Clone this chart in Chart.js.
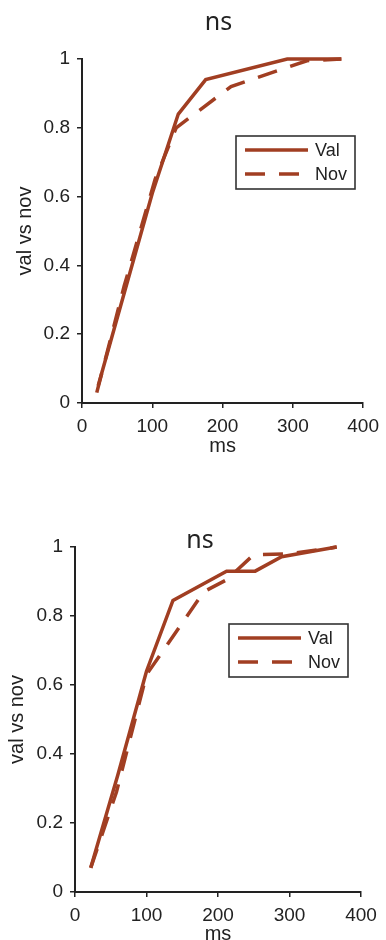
<!DOCTYPE html>
<html><head><meta charset="utf-8">
<script src="https://cdn.jsdelivr.net/npm/chart.js@4"></script>
<style>
html,body{margin:0;padding:0;background:#fff;overflow:hidden;width:386px;height:940px;position:relative;}
canvas{position:absolute;left:0;}
#c1{top:0}
#c2{top:470px}
</style></head><body>
<canvas id="c1" width="386" height="470"></canvas>
<canvas id="c2" width="386" height="480"></canvas>
<script>
// ---- data ----
const seriesLabels = ['Val', 'Nov'];
const chartTitle = 'ns';
const xAxisTitle = 'ms';
const yAxisTitle = 'val vs nov';
const xTickValues = [0, 100, 200, 300, 400];
const yTickValues = [0, 0.2, 0.4, 0.6, 0.8, 1];

const topValMs  = [23, 100, 137, 176, 292, 369];
const topVal    = [0.05, 0.61, 0.84, 0.94, 1.0, 1.0];
const topNovMs  = [21, 60, 104, 134, 212, 320, 369];
const topNov    = [0.03, 0.34, 0.65, 0.80, 0.92, 0.995, 1.0];

const botValMs  = [22, 60, 100, 137, 212, 252, 289, 366];
const botVal    = [0.07, 0.34, 0.64, 0.845, 0.93, 0.93, 0.972, 1.0];
const botNovMs  = [22, 58, 100, 180, 212, 250, 300, 366];
const botNov    = [0.07, 0.29, 0.63, 0.87, 0.905, 0.978, 0.98, 1.0];

// ---- styling ----
const LINE = '#A13E22';
const INK = '#222';
const TICKFONT = {family: "'Liberation Sans', Arial, sans-serif", size: 19};
const LABFONT = {family: "'Liberation Sans', Arial, sans-serif", size: 20};

const titlePlugin = {
  id: 'figTitle',
  afterDraw(chart, args, o) {
    const ctx = chart.ctx, a = chart.chartArea;
    ctx.save();
    ctx.font = o.font; ctx.fillStyle = o.color;
    ctx.textAlign = 'center'; ctx.textBaseline = 'alphabetic';
    ctx.fillText(o.text, (a.left + a.right) / 2 + o.dx, a.top + o.dy);
    ctx.restore();
  }
};

const boxLegendPlugin = {
  id: 'boxLegend',
  afterDraw(chart, args, o) {
    const ctx = chart.ctx, a = chart.chartArea;
    const x = a.left + o.x, y = a.top + o.y;
    ctx.save();
    ctx.fillStyle = '#fff'; ctx.fillRect(x, y, o.w, o.h);
    ctx.lineWidth = 1.6; ctx.strokeStyle = '#333'; ctx.setLineDash([]);
    ctx.strokeRect(x, y, o.w, o.h);
    chart.data.datasets.forEach((ds, i) => {
      const ly = y + o.rows[i];
      ctx.beginPath();
      ctx.setLineDash(ds.borderDash || []);
      ctx.lineWidth = ds.borderWidth; ctx.strokeStyle = ds.borderColor; ctx.lineCap = 'butt';
      ctx.moveTo(x + o.lx0, ly); ctx.lineTo(x + o.lx1, ly); ctx.stroke();
      ctx.setLineDash([]);
      ctx.fillStyle = INK; ctx.font = o.font;
      ctx.textAlign = 'left'; ctx.textBaseline = 'middle';
      ctx.fillText(ds.label, x + o.tx, ly + 1);
    });
    ctx.restore();
  }
};

function pts(xs, ys) { return xs.map((v, i) => ({x: v, y: ys[i]})); }

function makeChart(id, valMs, val, novMs, nov, L) {
  return new Chart(document.getElementById(id), {
    type: 'line',
    data: {
      datasets: [
        {label: seriesLabels[0], data: pts(valMs, val), borderColor: LINE, borderWidth: 3.5,
         pointRadius: 0, tension: 0, fill: false, borderCapStyle: 'butt', clip: false},
        {label: seriesLabels[1], data: pts(novMs, nov), borderColor: LINE, borderWidth: 3.5,
         borderDash: [20, 14], pointRadius: 0, tension: 0, fill: false, borderCapStyle: 'butt', clip: false}
      ]
    },
    options: {
      responsive: false, animation: false, devicePixelRatio: 1,
      layout: {padding: {top: L.top, left: 0, right: L.right, bottom: 0}},
      plugins: {
        legend: {display: false}, tooltip: {enabled: false}, title: {display: false},
        figTitle: {text: chartTitle, font: "25px 'Noto Sans', 'Open Sans', sans-serif", color: INK, dx: L.tdx, dy: L.tdy},
        boxLegend: {x: 154, y: 77, w: 119, h: 53, rows: [14, 38], lx0: 9, lx1: 72, tx: 79,
                    font: "18px 'Liberation Sans', Arial, sans-serif"}
      },
      scales: {
        x: {
          type: 'linear', min: 0, max: 400,
          afterBuildTicks: s => { s.ticks = xTickValues.map(v => ({value: v})); },
          afterFit: s => { s.height = L.xH; },
          grid: {drawOnChartArea: false, drawTicks: true, tickLength: 5, color: INK, lineWidth: 1.5},
          border: {display: true, color: INK, width: 2},
          ticks: {font: TICKFONT, color: INK, padding: 7, maxRotation: 0, autoSkip: false},
          title: {display: true, text: xAxisTitle, font: LABFONT, color: INK, padding: {top: 0, bottom: L.xTitlePad}}
        },
        y: {
          type: 'linear', min: 0, max: 1,
          afterBuildTicks: s => { s.ticks = yTickValues.map(v => ({value: v})); },
          afterFit: s => { s.width = L.yW; },
          grid: {drawOnChartArea: false, drawTicks: true, tickLength: 5, color: INK, lineWidth: 1.5},
          border: {display: true, color: INK, width: 2},
          ticks: {font: TICKFONT, color: INK, padding: 7, callback: v => String(v)},
          title: {display: true, text: yAxisTitle, font: LABFONT, color: INK, padding: {top: L.yTitlePad, bottom: 0}}
        }
      }
    },
    plugins: [titlePlugin, boxLegendPlugin]
  });
}

makeChart('c1', topValMs, topVal, topNovMs, topNov,
  {top: 59, right: 19, xH: 67, yW: 82, xTitlePad: 12, yTitlePad: 13, tdx: -4, tdy: -29.5});
makeChart('c2', botValMs, botVal, botNovMs, botNov,
  {top: 77, right: 25, xH: 58, yW: 75, xTitlePad: 4, yTitlePad: 5.5, tdx: -18, tdy: 1});
</script>
</body></html>
